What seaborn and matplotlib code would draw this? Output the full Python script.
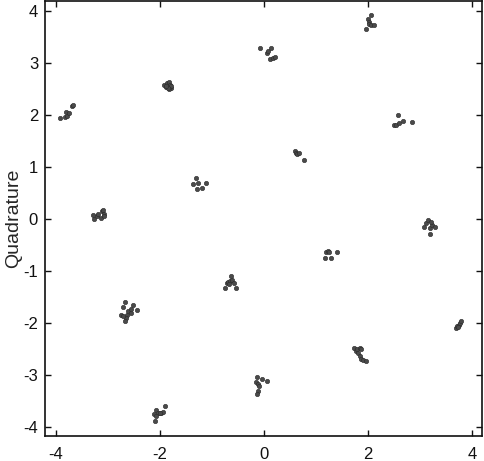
import pandas as pd
import matplotlib.pyplot as plt
import seaborn as sns

# received symbols (in-phase / quadrature)
in_phase = [
    -3.92, -3.83, -3.78, -3.80, -3.74, -3.70, -3.67,
    -1.92, -1.89, -1.86, -1.83, -1.80, -1.78, -1.79, -1.82, -1.85, -1.88,
    -0.08, 0.06, 0.08, 0.13, 0.12, 0.17, 0.21,
    1.95, 2.00, 2.02, 2.01, 2.06, 2.06, 2.11,
    -3.28, -3.27, -3.22, -3.20, -3.13, -3.11, -3.09, -3.08, -3.07,
    -1.36, -1.30, -1.28, -1.27, -1.19, -1.12,
    0.59, 0.61, 0.64, 0.67, 0.77,
    2.49, 2.54, 2.57, 2.59, 2.67, 2.85,
    -2.74, -2.71, -2.67, -2.64, -2.65, -2.67, -2.61, -2.56, -2.55, -2.51, -2.44, -2.71,
    -0.75, -0.72, -0.69, -0.66, -0.63, -0.61, -0.58, -0.54, -0.68,
    1.17, 1.20, 1.23, 1.25, 1.29, 1.40,
    3.08, 3.12, 3.15, 3.18, 3.19, 3.23, 3.28, 3.21,
    -2.10, -2.12, -2.08, -2.03, -1.98, -1.95, -1.91, -2.08, -2.00,
    -0.13, -0.15, -0.12, -0.10, -0.03, 0.06, -0.12, -0.13,
    1.72, 1.76, 1.79, 1.84, 1.87, 1.80, 1.84, 1.87, 1.90, 1.95,
    3.69, 3.70, 3.74, 3.76, 3.79, 3.72,
]
quadrature = [
    1.95, 1.96, 1.97, 2.06, 2.03, 2.17, 2.19,
    2.57, 2.53, 2.62, 2.64, 2.58, 2.52, 2.55, 2.50, 2.52, 2.56,
    3.28, 3.18, 3.22, 3.28, 3.07, 3.09, 3.12,
    3.65, 3.84, 3.79, 3.74, 3.91, 3.73, 3.73,
    0.08, 0.00, 0.05, 0.10, 0.02, 0.15, 0.17, 0.09, 0.05,
    0.68, 0.79, 0.57, 0.69, 0.60, 0.69,
    1.31, 1.26, 1.24, 1.27, 1.14,
    1.81, 1.81, 1.99, 1.84, 1.88, 1.87,
    -1.84, -1.69, -1.60, -1.84, -1.90, -1.96, -1.77, -1.80, -1.73, -1.66, -1.75, -1.86,
    -1.33, -1.23, -1.20, -1.19, -1.09, -1.17, -1.22, -1.33, -1.24,
    -0.75, -0.63, -0.61, -0.64, -0.75, -0.63,
    -0.15, -0.08, -0.02, -0.18, -0.29, -0.11, -0.15, -0.05,
    -3.88, -3.75, -3.67, -3.72, -3.73, -3.71, -3.59, -3.78, -3.73,
    -3.03, -3.13, -3.17, -3.21, -3.08, -3.11, -3.30, -3.37,
    -2.47, -2.54, -2.50, -2.47, -2.49, -2.58, -2.63, -2.68, -2.71, -2.72,
    -2.09, -2.05, -2.03, -1.99, -1.96, -2.07,
]

df = pd.DataFrame({"I": in_phase, "Q": quadrature})

sns.set_style("ticks")
plt.rcParams["font.family"] = ["Liberation Sans", "DejaVu Sans"]
plt.rcParams["axes.unicode_minus"] = False

fig = plt.figure(figsize=(4.84, 4.61), dpi=100)
ax = fig.add_axes([0.093, 0.054, 0.903, 0.944])

sns.scatterplot(data=df, x="I", y="Q", ax=ax, s=10, color="#4a4a4a",
                edgecolor="#2a2a2a", linewidth=0.4)

ax.set_xlim(-4.21, 4.19)
ax.set_ylim(-4.17, 4.19)
ax.set_xticks([-4, -2, 0, 2, 4])
ax.set_yticks([-4, -3, -2, -1, 0, 1, 2, 3, 4])
ax.set_xlabel("")
ax.set_ylabel("Quadrature", fontsize=14, labelpad=1)
ax.tick_params(direction="in", top=True, right=True, labelsize=12,
               length=4, width=1, color="#111111", labelcolor="#111111")
ax.tick_params(axis="x", pad=8)
ax.tick_params(axis="y", pad=5)
for sp in ax.spines.values():
    sp.set_visible(True)
    sp.set_linewidth(1.2)
    sp.set_color("#111111")

plt.savefig("out.png", dpi=100)
plt.close()
